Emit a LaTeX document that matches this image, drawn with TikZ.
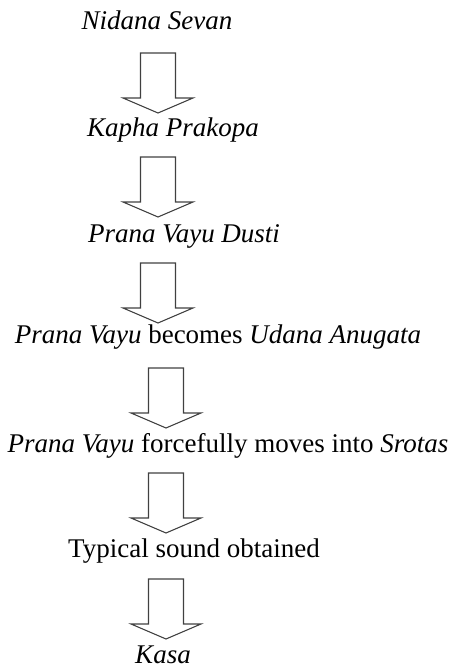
\documentclass[tikz,border=0pt]{standalone}
\usepackage{fontspec}
\setmainfont{Liberation Serif}

\begin{document}
\begin{tikzpicture}[x=0.5pt,y=-0.5pt,
  step label/.style={inner sep=0pt,anchor=base,font=\fontsize{13.5}{16}\selectfont},
  hollow arrow/.style={draw=black!75,line width=0.55pt,line join=miter}]
 \useasboundingbox (0,0) rectangle (450,666);

 % the steps
 \node[step label] (nidana) at (157,29) {\textit{Nidana Sevan}};
 \node[step label] (kapha)  at (173,136) {\textit{Kapha Prakopa}};
 \node[step label] (dusti)  at (184,242) {\textit{Prana Vayu Dusti}};
 \node[step label] (udana)  at (218,343) {\textit{Prana Vayu} becomes \textit{Udana Anugata}};
 \node[step label] (srotas) at (228,452) {\textit{Prana Vayu} forcefully moves into \textit{Srotas}};
 \node[step label] (sound)  at (194,557) {Typical sound obtained};
 \node[step label] (kasa)   at (163,663) {\textit{Kasa}};

 % tops of the block arrows
 \coordinate (a1) at (158,53);
 \coordinate (a2) at (158,157);
 \coordinate (a3) at (158,263);
 \coordinate (a4) at (166,368);
 \coordinate (a5) at (166,473);
 \coordinate (a6) at (166,579);

 \foreach \a in {a1,a2,a3,a4,a5,a6}
  \draw[hollow arrow] (\a) ++(-17.5,0)
   -- ++(35,0) -- ++(0,45) -- ++(17.5,0)
   -- ++(-35,15) -- ++(-35,-15) -- ++(17.5,0) -- cycle;

\end{tikzpicture}
\end{document}
